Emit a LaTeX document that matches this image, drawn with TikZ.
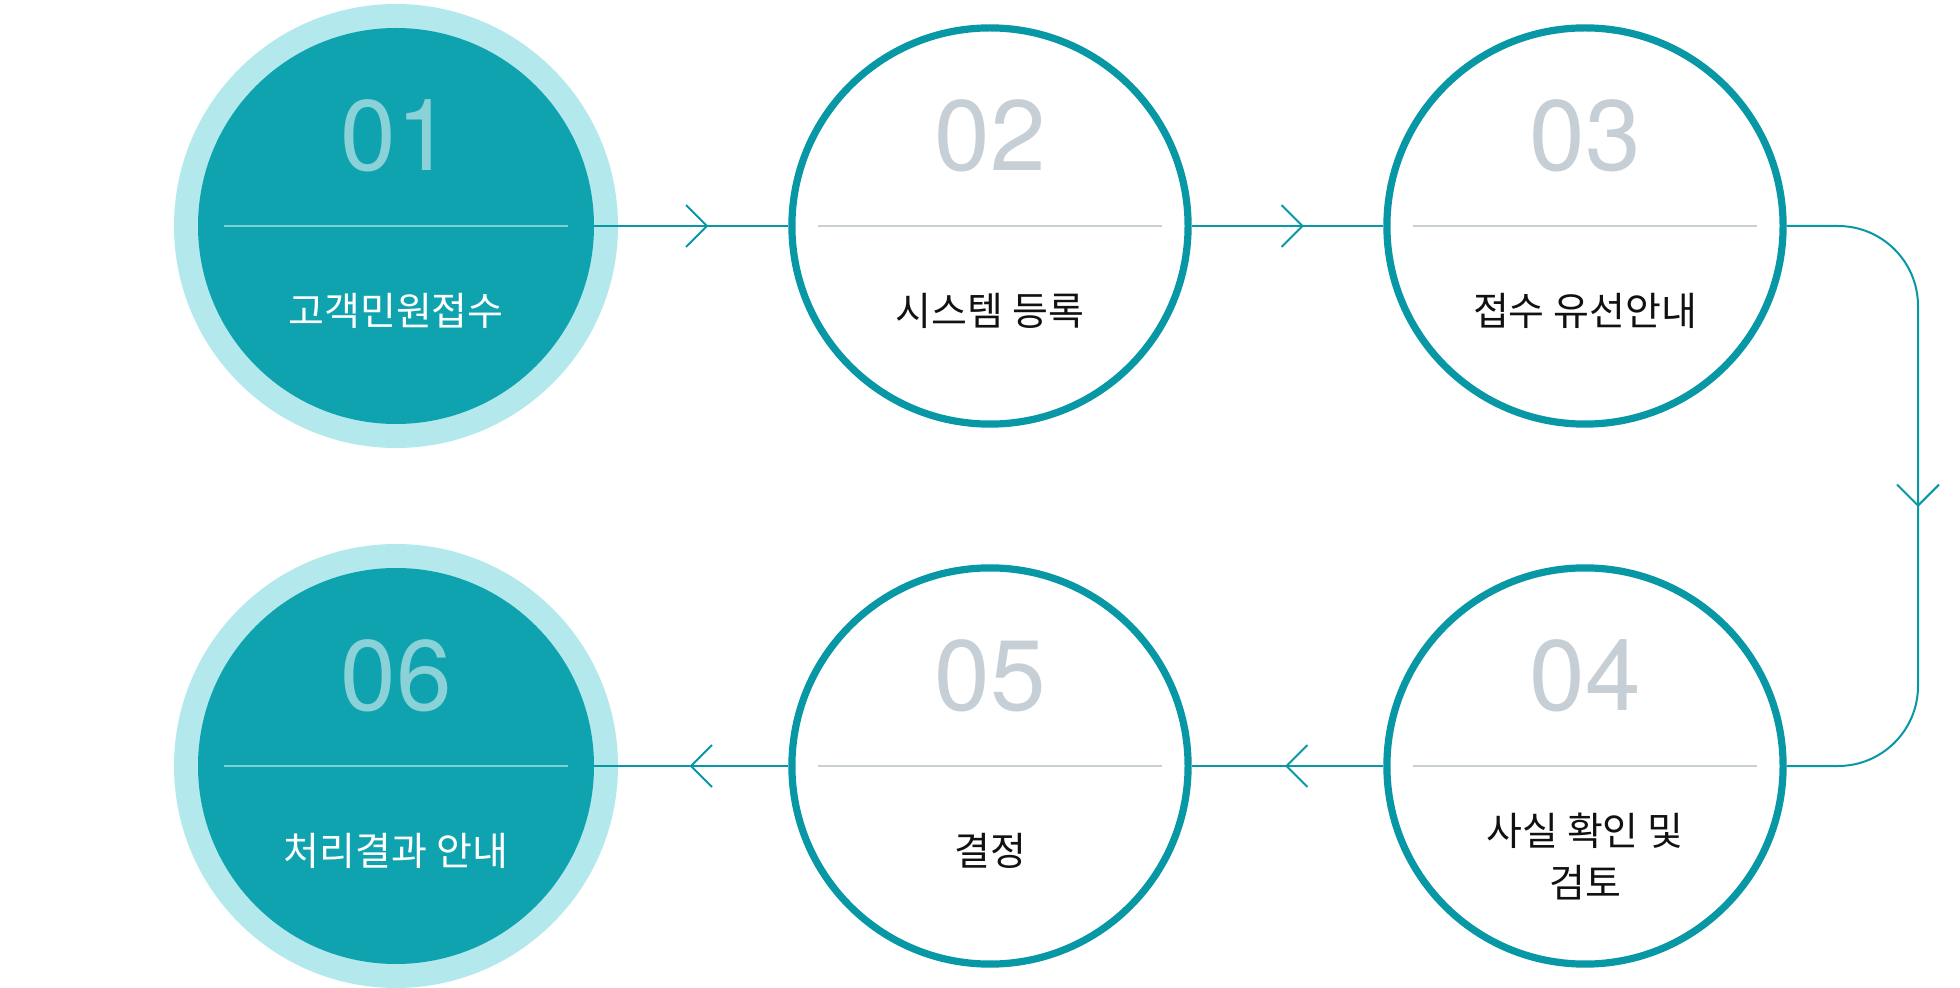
\documentclass[tikz,border=0pt]{standalone}
\usepackage{fontspec}
\setmainfont{Noto Sans CJK KR}
\newfontfamily\numfont{TeX Gyre Heros}
\usetikzlibrary{positioning, arrows.meta, decorations.markings}

\definecolor{tealdark}{HTML}{0FA3B0}
\definecolor{teallight}{HTML}{B3E9EC}
\definecolor{tealline}{HTML}{0897A5}
\definecolor{numteal}{HTML}{8AD2D7}
\definecolor{numgray}{HTML}{C5CFD5}
\definecolor{rulegray}{HTML}{C8D0D4}
\definecolor{ruleteal}{HTML}{7DCFD5}
\definecolor{textdark}{HTML}{111111}

\begin{document}
\begin{tikzpicture}[
        x=0.5pt, y=-0.5pt,
        halo/.style={circle, fill=teallight, minimum size=222pt, inner sep=0pt},
        donecircle/.style={circle, fill=tealdark, minimum size=198pt, inner sep=0pt},
        stepcircle/.style={circle, draw=tealline, line width=3.6pt, fill=white,
            minimum size=198.1pt, inner sep=0pt},
        num/.style={font=\numfont\fontsize{50}{50}\selectfont, text=numgray, inner sep=0pt},
        steptext/.style={font=\fontsize{19.5}{26}\selectfont, text=textdark,
            align=center, inner sep=0pt},
        divider/.style={draw=rulegray, line width=0.7pt},
        conn/.style={draw=tealline, line width=1pt},
        chevron at/.style={postaction={decorate}, decoration={markings,
            mark=at position #1 with {\arrow{Straight Barb[length=10.5pt, width=21pt]}}}}
      ]
        \useasboundingbox (0,0) rectangle (1960,988);

        % top row
        \node[halo] (h1) at (396,226) {};
        \node[donecircle] (s1) at (h1) {};
        \node[stepcircle] (s2) at (990,226) {};
        \node[stepcircle] (s3) at (1585,226) {};

        % bottom row
        \node[halo] (h6) at (396,766) {};
        \node[donecircle] (s6) at (h6) {};
        \node[stepcircle] (s5) at (990,766) {};
        \node[stepcircle] (s4) at (1585,766) {};

        % dividers
        \draw[divider, draw=ruleteal] ([xshift=-86pt]s1.center) -- ([xshift=86pt]s1.center);
        \draw[divider] ([xshift=-86pt]s2.center) -- ([xshift=86pt]s2.center);
        \draw[divider] ([xshift=-86pt]s3.center) -- ([xshift=86pt]s3.center);
        \draw[divider] ([xshift=-86pt]s4.center) -- ([xshift=86pt]s4.center);
        \draw[divider] ([xshift=-86pt]s5.center) -- ([xshift=86pt]s5.center);
        \draw[divider, draw=ruleteal] ([xshift=-86pt]s6.center) -- ([xshift=86pt]s6.center);

        % numbers
        \node[num, text=numteal] (n1) at ([yshift=45pt]s1.center) {01};
        \node[num] (n2) at ([yshift=45pt]s2.center) {02};
        \node[num] (n3) at ([yshift=45pt]s3.center) {03};
        \node[num] (n4) at ([yshift=45pt]s4.center) {04};
        \node[num] (n5) at ([yshift=45pt]s5.center) {05};
        \node[num, text=numteal] (n6) at ([yshift=45pt]s6.center) {06};

        % step names
        \node[steptext, text=white] (t1) at ([yshift=-42.5pt]s1.center) {고객민원접수};
        \node[steptext] (t2) at ([yshift=-42.5pt]s2.center) {시스템 등록};
        \node[steptext] (t3) at ([yshift=-42.5pt]s3.center) {접수 유선안내};
        \node[steptext] (t4) at ([yshift=-45.5pt]s4.center) {사실 확인 및\\검토};
        \node[steptext] (t5) at ([yshift=-42.5pt]s5.center) {결정};
        \node[steptext, text=white] (t6) at ([yshift=-42.5pt]s6.center) {처리결과 안내};

        % connectors
        \draw[conn, chevron at=0.588] (s1.east) -- (s2.west);
        \draw[conn, chevron at=0.586] (s2.east) -- (s3.west);
        \draw[conn, chevron at=189pt, rounded corners=40pt]
            (s3.east) -- ([xshift=166.5pt]s3.center) |- (s4.east);
        \draw[conn, chevron at=0.513] (s4.west) -- (s5.east);
        \draw[conn, chevron at=0.509] (s5.west) -- (s6.east);
      \end{tikzpicture}
\end{document}
